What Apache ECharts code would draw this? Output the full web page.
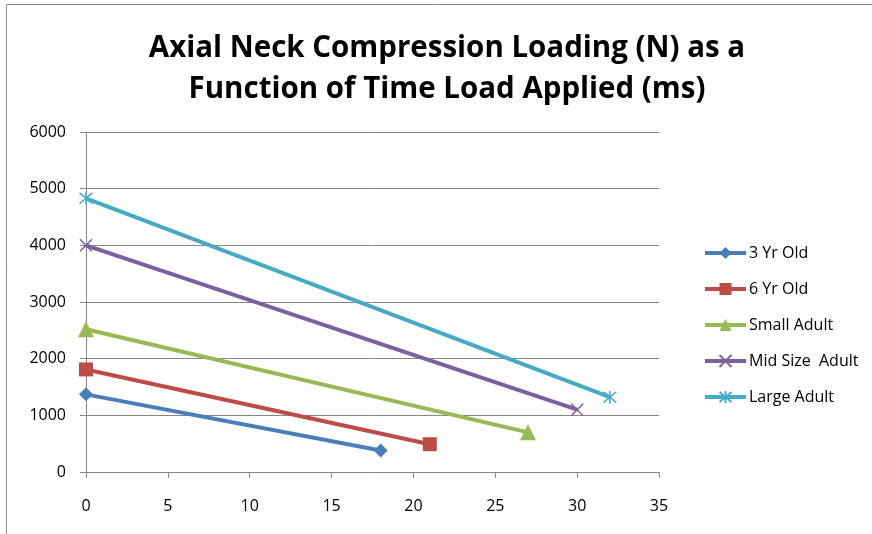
<!DOCTYPE html>
<html>
<head>
<meta charset="utf-8">
<script src="https://cdn.jsdelivr.net/npm/echarts@6/dist/echarts.min.js"></script>
<style>
  html, body { margin: 0; padding: 0; background: #fff; }
  #chart { width: 872px; height: 534px; }
</style>
</head>
<body>
<div id="chart"></div>
<script>
// Time load applied (ms) and axial neck compression load (N) per occupant size
const seriesNames = ['3 Yr Old', '6 Yr Old', 'Small Adult', 'Mid Size  Adult', 'Large Adult'];
const time3yr = [0, 18];
const load3yr = [1370, 380];
const time6yr = [0, 21];
const load6yr = [1810, 490];
const timeSmall = [0, 27];
const loadSmall = [2520, 700];
const timeMid = [0, 30];
const loadMid = [4000, 1100];
const timeLarge = [0, 32];
const loadLarge = [4830, 1320];

const xTicks = [0, 5, 10, 15, 20, 25, 30, 35];
const yTicks = [0, 1000, 2000, 3000, 4000, 5000, 6000];

const colors = ['#4a7ebb', '#be4b48', '#98b954', '#7d5fa0', '#46aac5'];

// Marker shapes: diamond, square, triangle, X cross, asterisk
const crossPath = 'path://M0,0L10,10M10,0L0,10';
const starPath = 'path://M0,0L10,10M10,0L0,10M5,-1L5,11';
const symbols = ['diamond', 'rect', 'triangle', crossPath, starPath];
const symbolSizes = [14, 14, 16, 12, 13];

function pairs(xs, ys) { return xs.map((x, i) => [x, ys[i]]); }
const datasets = [
  pairs(time3yr, load3yr),
  pairs(time6yr, load6yr),
  pairs(timeSmall, loadSmall),
  pairs(timeMid, loadMid),
  pairs(timeLarge, loadLarge)
];

const font = '"Open Sans", Lato, sans-serif';

const chart = echarts.init(document.getElementById('chart'), null, { renderer: 'canvas' });

chart.setOption({
  backgroundColor: '#fff',
  animation: false,
  title: {
    text: 'Axial Neck Compression Loading (N) as a\nFunction of Time Load Applied (ms)',
    left: 442,
    textAlign: 'center',
    top: 23,
    textStyle: { fontFamily: font, fontWeight: 'bold', fontSize: 29.5, lineHeight: 41, color: '#000' }
  },
  graphic: [{
    type: 'rect',
    shape: { x: 6.5, y: 4.5, width: 900, height: 600 },
    style: { fill: 'none', stroke: '#8c8c8c', lineWidth: 1 },
    silent: true
  }],
  grid: { left: 86, top: 132, width: 573, height: 340, containLabel: false },
  legend: {
    orient: 'vertical',
    left: 698,
    top: 240,
    itemGap: 20,
    itemWidth: 41,
    itemHeight: 15,
    lineStyle: { width: 4 },
    textStyle: { fontFamily: font, fontSize: 16, lineHeight: 16, color: '#000', padding: [0, 0, 0, -2] },
    data: seriesNames
  },
  xAxis: {
    type: 'value',
    min: 0, max: 35, interval: 5,
    axisLine: { show: true, lineStyle: { color: '#868686', width: 1 } },
    axisTick: { show: true, inside: false, length: 6, lineStyle: { color: '#868686' } },
    axisLabel: { fontFamily: font, fontSize: 16, color: '#000', margin: 26,
      formatter: v => xTicks.includes(v) ? String(v) : '' },
    splitLine: { show: false }
  },
  yAxis: {
    type: 'value',
    min: 0, max: 6000, interval: 1000,
    axisLine: { show: true, lineStyle: { color: '#868686', width: 1 } },
    axisTick: { show: true, inside: false, length: 6, lineStyle: { color: '#868686' } },
    axisLabel: { fontFamily: font, fontSize: 16, color: '#000', margin: 20,
      formatter: v => yTicks.includes(v) ? String(v) : '' },
    splitLine: { show: true, lineStyle: { color: '#868686', width: 1 } }
  },
  series: seriesNames.map((name, i) => ({
    name,
    type: 'line',
    data: datasets[i],
    symbol: symbols[i],
    symbolSize: symbolSizes[i],
    showAllSymbol: true,
    lineStyle: { color: colors[i], width: 4 },
    itemStyle: { color: colors[i], borderColor: colors[i], borderWidth: (i >= 3 ? 1.5 : 0) },
    emphasis: { disabled: true }
  }))
});
</script>
</body>
</html>
